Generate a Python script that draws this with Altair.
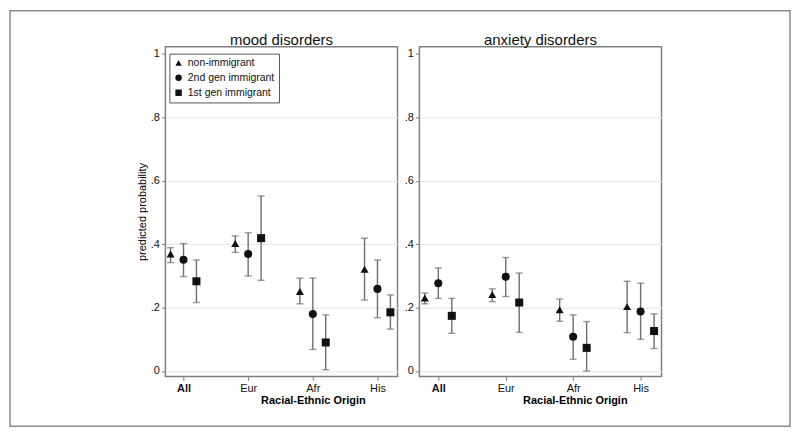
import altair as alt
import pandas as pd

categories = ["All", "Eur", "Afr", "His"]
groups = ["non-immigrant", "2nd gen immigrant", "1st gen immigrant"]
group_shapes = ["triangle-up", "circle", "square"]
panel_titles = ["mood disorders", "anxiety disorders"]

# values listed per category: non-immigrant, 2nd gen, 1st gen
mood_est = [0.369, 0.351, 0.283, 0.402, 0.369, 0.419, 0.251, 0.180, 0.090, 0.321, 0.259, 0.185]
mood_lo = [0.342, 0.298, 0.216, 0.374, 0.300, 0.286, 0.212, 0.068, 0.004, 0.224, 0.168, 0.132]
mood_hi = [0.389, 0.402, 0.350, 0.426, 0.436, 0.552, 0.293, 0.293, 0.177, 0.419, 0.350, 0.240]

anx_est = [0.230, 0.277, 0.174, 0.241, 0.297, 0.216, 0.193, 0.108, 0.073, 0.203, 0.188, 0.126]
anx_lo = [0.212, 0.229, 0.119, 0.219, 0.235, 0.122, 0.157, 0.037, 0.000, 0.121, 0.100, 0.071]
anx_hi = [0.246, 0.325, 0.229, 0.259, 0.358, 0.309, 0.227, 0.177, 0.156, 0.283, 0.277, 0.180]

y_ticks = [0, 0.2, 0.4, 0.6, 0.8, 1]
group_offsets = [-0.2, 0.0, 0.2]

FONT = "Liberation Sans"
XDOM = [0.72, 4.31]
YDOM = [-0.017, 1.023]
FRAME = "#808080"
ERR = "#6e6e6e"


def make_df(est, lo, hi):
    rows = []
    for ci, cat in enumerate(categories):
        for gi, g in enumerate(groups):
            k = ci * 3 + gi
            rows.append({"cat": cat, "group": g, "x": ci + 1 + group_offsets[gi],
                         "est": est[k], "lo": lo[k], "hi": hi[k]})
    return pd.DataFrame(rows)


label_expr = ("datum.value == 1 ? 'All' : datum.value == 2 ? 'Eur' : "
              "datum.value == 3 ? 'Afr' : 'His'")
ylabel_expr = ("datum.value == 0 ? '0' : datum.value == 1 ? '1' : "
               "replace(format(datum.value, '.1f'), '0.', '.')")


def panel(df, title, width, title_x, ytitle, legend):
    xenc = alt.X("x:Q", scale=alt.Scale(domain=XDOM, nice=False, zero=False),
                 axis=alt.Axis(values=[1, 2, 3, 4], labelExpr=label_expr,
                               labelFontWeight=alt.condition("datum.value == 1", alt.value("bold"), alt.value("normal")),
                               title="Racial-Ethnic Origin", titleX=title_x, titleY=18,
                               titleBaseline="top", titleFontWeight="bold", titleFontSize=11,
                               grid=False, domain=False, tickSize=4, tickColor=FRAME,
                               labelFontSize=11, labelPadding=2, labelColor="#111"))
    yaxis = alt.Axis(values=y_ticks, labelExpr=ylabel_expr, title=ytitle,
                     titleFontWeight="normal", titleFontSize=11, titlePadding=3,
                     grid=True, gridColor="#e4e4e4", gridWidth=1,
                     gridOpacity=alt.condition("datum.value == 1", alt.value(0), alt.value(1)),
                     domain=False, tickSize=4, tickColor=FRAME, labelFontSize=11,
                     labelPadding=2, labelColor="#111")
    yscale = alt.Scale(domain=YDOM, nice=False, zero=False)
    base = alt.Chart(df)
    rules = base.mark_rule(color=ERR, strokeWidth=1.4).encode(
        x=xenc, y=alt.Y("lo:Q", scale=yscale, axis=yaxis), y2="hi:Q")
    cap_lo = base.mark_tick(color=ERR, orient="horizontal", size=7, thickness=1.4).encode(
        x=xenc, y=alt.Y("lo:Q", scale=yscale, axis=yaxis))
    cap_hi = base.mark_tick(color=ERR, orient="horizontal", size=7, thickness=1.4).encode(
        x=xenc, y=alt.Y("hi:Q", scale=yscale, axis=yaxis))
    shape_scale = alt.Scale(domain=groups, range=group_shapes)
    if legend:
        leg = alt.Legend(title=None, orient="none", legendX=4, legendY=7,
                         strokeColor="#555", fillColor="white", padding=4,
                         symbolSize=42, symbolFillColor="#111", symbolStrokeColor="#111",
                         symbolStrokeWidth=0, labelFontSize=10.5, labelFont=FONT,
                         rowPadding=4, labelColor="#111", labelOffset=4)
    else:
        leg = None
    pts = base.mark_point(filled=True, size=65, opacity=1, color="#111").encode(
        x=xenc, y=alt.Y("est:Q", scale=yscale, axis=yaxis),
        shape=alt.Shape("group:N", scale=shape_scale, legend=leg))
    ttl = alt.Chart(pd.DataFrame({"t": [title]})).mark_text(
        fontSize=15, font=FONT, color="#111", baseline="alphabetic", align="center",
        clip=False).encode(text="t:N", x=alt.value(width / 2), y=alt.value(-2))
    layers = [rules, cap_lo, cap_hi, pts, ttl]
    if legend:
        border = alt.Chart(pd.DataFrame({"k": [0]})).mark_rect(
            fillOpacity=0, stroke="#8a8a8a", strokeWidth=1.5, clip=False).encode(
            x=alt.value(-156), x2=alt.value(627), y=alt.value(-36), y2=alt.value(381))
        layers = [border] + layers
    return alt.layer(*layers).properties(width=width, height=331)


mood_df = make_df(mood_est, mood_lo, mood_hi)
anx_df = make_df(anx_est, anx_lo, anx_hi)

p1 = panel(mood_df, panel_titles[0], 233, 148, "predicted probability", True)
p2 = panel(anx_df, panel_titles[1], 243, 156, None, False)

chart = alt.hconcat(p1, p2, spacing=22, bounds="flush", padding=0).resolve_scale(
    shape="independent").resolve_legend(shape="independent").configure(
    font=FONT, background="white").configure_view(
    stroke=FRAME, strokeWidth=1.5).configure_axis(labelFont=FONT, titleFont=FONT)

chart.save("out.html", embed_options={"renderer": "svg", "actions": False})
